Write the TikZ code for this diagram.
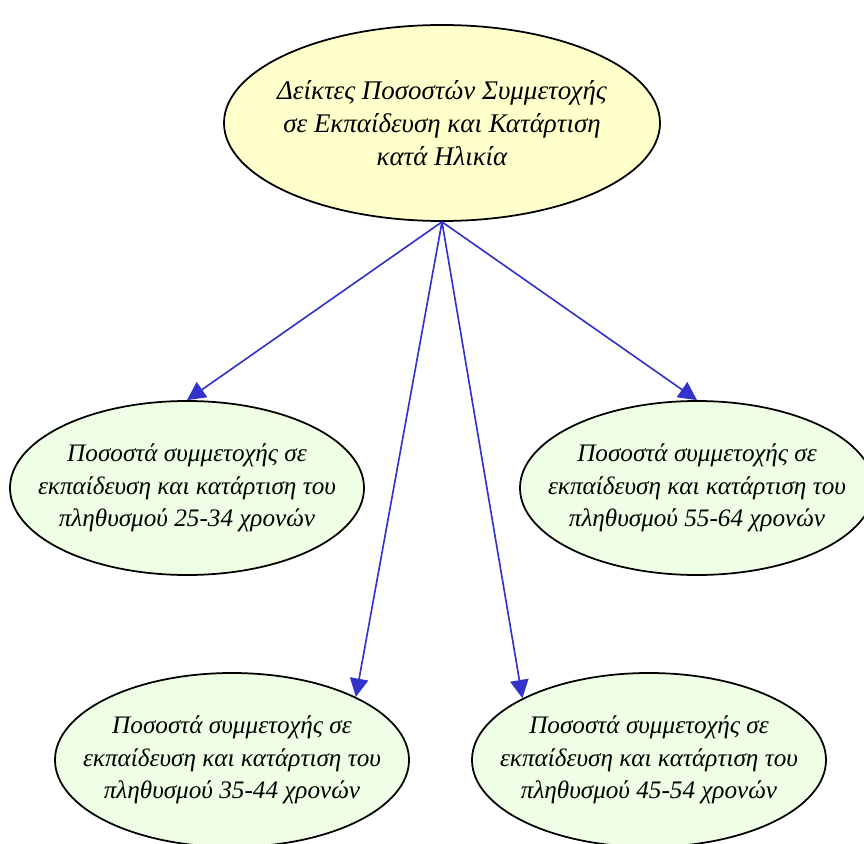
\documentclass[tikz,border=0pt]{standalone}
\usepackage{fontspec}
\setmainfont{Liberation Serif}
\usetikzlibrary{arrows.meta,shapes.geometric,positioning}
\definecolor{topyellow}{RGB}{255,255,204}
\definecolor{leafgreen}{RGB}{238,255,230}
\definecolor{arrowblue}{RGB}{51,51,204}

\begin{document}
\begin{tikzpicture}[x=0.03cm, y=-0.03cm,
      font=\itshape,
      box/.style={draw, ellipse, line width=1.5pt, align=center,
                  inner xsep=-1cm, inner ysep=0pt},
      topbox/.style={box, fill=topyellow, minimum width=13.08cm, minimum height=5.88cm,
                     font=\fontsize{23}{28}\selectfont\itshape},
      leaf/.style={box, fill=leafgreen, minimum width=10.62cm, minimum height=5.22cm,
                   font=\fontsize{21.5}{28}\selectfont\itshape},
      arr/.style={-{Triangle[length=0.55cm, width=0.55cm]}, line width=1.4pt, arrowblue}
    ]
    \useasboundingbox (0,0) rectangle (864,844);

    \node[topbox] (root) at (442,123)
          {Δείκτες Ποσοστών Συμμετοχής\\σε Εκπαίδευση και Κατάρτιση\\κατά Ηλικία};

    \node[leaf] (a2534) at (187,488)
          {Ποσοστά συμμετοχής σε\\εκπαίδευση και κατάρτιση του\\πληθυσμού 25-34 χρονών};
    \node[leaf] (a5564) at (697,488)
          {Ποσοστά συμμετοχής σε\\εκπαίδευση και κατάρτιση του\\πληθυσμού 55-64 χρονών};
    \node[leaf] (a3544) at (232,760)
          {Ποσοστά συμμετοχής σε\\εκπαίδευση και κατάρτιση του\\πληθυσμού 35-44 χρονών};
    \node[leaf] (a4554) at (649,760)
          {Ποσοστά συμμετοχής σε\\εκπαίδευση και κατάρτιση του\\πληθυσμού 45-54 χρονών};

    \draw[arr] (root.south) -- (a2534.north);
    \draw[arr] (root.south) -- (a5564.north);
    \draw[arr] (root.south) -- (a3544.27);
    \draw[arr] (root.south) -- (a4554.154);
  \end{tikzpicture}
\end{document}
